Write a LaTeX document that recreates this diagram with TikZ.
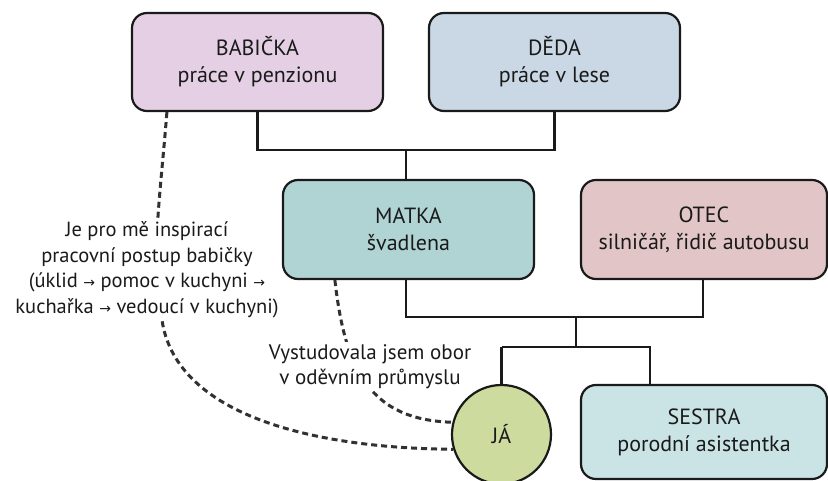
\documentclass[tikz,border=0pt]{standalone}
\usepackage{fontspec}
\setmainfont{PT Sans}
\newfontfamily\arrfont{DejaVu Sans}
\definecolor{cbab}{RGB}{229,207,228}
\definecolor{cded}{RGB}{201,216,228}
\definecolor{cmat}{RGB}{176,212,211}
\definecolor{cotec}{RGB}{226,197,198}
\definecolor{cses}{RGB}{202,228,230}
\definecolor{cja}{RGB}{205,220,158}
\definecolor{cline}{RGB}{26,26,26}
\newcommand{\arw}{{\arrfont\fontsize{14}{14}\selectfont →}}
\tikzset{
  person/.style={draw=cline, line width=2.2pt, rounded corners=15pt, align=center,
    font=\fontsize{22}{27}\selectfont, text=cline, inner sep=0pt},
  tree/.style={draw=cline, line width=2.2pt},
  dotted line/.style={draw=cline!90, line width=3pt, dash pattern=on 6pt off 4pt},
  note/.style={fill=white, align=center, inner sep=2pt, text=cline,
    font=\fontsize{20.5}{25.5}\selectfont}
}
\begin{document}
\begin{tikzpicture}[x=1pt,y=-1pt]
\useasboundingbox (0,0) rectangle (828,481);
\clip (0,0) rectangle (828,481);
\node[person, fill=cbab, minimum width=251pt, minimum height=98pt] (bab) at (257.5,62) {BABIČKA\\práce v penzionu};
\node[person, fill=cded, minimum width=251pt, minimum height=98pt] (ded) at (554.5,62) {DĚDA\\práce v lese};
\node[person, fill=cmat, minimum width=251pt, minimum height=99pt] (mat) at (408.5,229.5) {MATKA\\švadlena};
\node[person, fill=cotec, minimum width=246pt, minimum height=99pt] (otec) at (704,229.5) {OTEC\\silničář, řidič autobusu};
\node[person, fill=cses, minimum width=246pt, minimum height=94pt] (ses) at (704,432) {SESTRA\\porodní asistentka};
\node[draw=cline, line width=2.2pt, circle, fill=cja, minimum size=99pt, inner sep=0pt, text=cline, font=\fontsize{22}{27}\selectfont] (ja) at (501.5,434.5) {JÁ};
% tree connectors
\coordinate (j1) at (406,150);
\draw[tree] (bab.south) |- (j1) -| (ded.south);
\draw[tree] (j1) -- (j1 |- mat.north);
\coordinate (j2) at (576,317);
\coordinate (j3) at (576,347);
\draw[tree] ([xshift=-2.5pt]mat.south) |- (j2) -| ([xshift=-1pt]otec.south);
\draw[tree] (j2) -- (j3);
\draw[tree] (j3 -| ja.north) -- (ja.north);
\draw[tree] (j3 -| ja.north) -| ([xshift=-54pt]ses.north);
% dashed influence lines
\coordinate (b1) at ([xshift=36pt]bab.south west);
\draw[dotted line] (b1) .. controls (160,200) and (150,260) .. (162,320) .. controls (175,410) and (300,448) .. (ja.197);
\coordinate (m1) at ([xshift=53pt]mat.south west);
\draw[dotted line] (m1) .. controls (345,370) and (370,420) .. (ja.166);
\node[note] (n1) at (147,270) {Je pro mě inspirací\\pracovní postup babičky\\(úklid \arw{} pomoc v kuchyni \arw\\kuchařka \arw{} vedoucí v kuchyni)};
\node[note, font=\fontsize{21}{25}\selectfont] (n2) at (370,366.5) {Vystudovala jsem obor\\v oděvním průmyslu};
\end{tikzpicture}
\end{document}
